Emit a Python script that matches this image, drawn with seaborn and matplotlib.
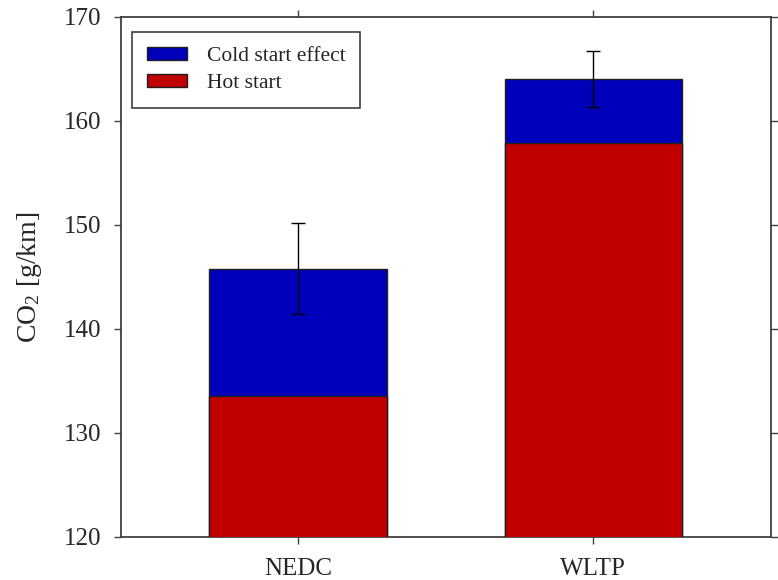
import matplotlib
matplotlib.use("Agg")
import matplotlib.pyplot as plt
import seaborn as sns
import pandas as pd
from matplotlib.patches import Patch

categories = ["NEDC", "WLTP"]
hot_start = [133.5, 157.9]
total = [145.8, 164.0]
total_err = [4.35, 2.7]
series_labels = ["Cold start effect", "Hot start"]
y_ticks = [120, 130, 140, 150, 160, 170]

sns.set_theme(style="white")
plt.rcParams["font.family"] = ["Liberation Serif", "DejaVu Serif"]
plt.rcParams["mathtext.fontset"] = "custom"
plt.rcParams["mathtext.rm"] = "Liberation Serif"
plt.rcParams["mathtext.it"] = "Liberation Serif:italic"

blue = "#0000BB"
red = "#C00000"
spine_col = "#404040"

df = pd.DataFrame({"cycle": categories, "hot": hot_start, "total": total})

fig = plt.figure(figsize=(7.78, 5.80), dpi=100)
ax = fig.add_axes([0.155, 0.0747, 0.8356, 0.896])

sns.barplot(data=df, x="cycle", y="total", order=categories, color=blue,
            saturation=1, width=0.6, edgecolor="#202020", linewidth=1.0, ax=ax, zorder=2)
sns.barplot(data=df, x="cycle", y="hot", order=categories, color=red,
            saturation=1, width=0.6, edgecolor="#202020", linewidth=1.0, ax=ax, zorder=3)

ax.errorbar(range(len(categories)), total, yerr=total_err, fmt="none",
            ecolor="black", elinewidth=1.0, capsize=5, capthick=1.0, zorder=4)

ax.set_xlim(-0.6, 1.6)
ax.set_ylim(120, 170)
ax.set_yticks(y_ticks)
ax.set_xlabel("")
ax.set_ylabel(r"CO$_2$ [g/km]", fontsize=20, labelpad=14)

for s in ax.spines.values():
    s.set_visible(True)
    s.set_color(spine_col)
    s.set_linewidth(1.3)

ax.tick_params(axis="y", which="both", left=True, right=True, direction="out",
               length=5, width=1.0, color=spine_col, labelsize=18, pad=9)
ax.tick_params(axis="x", which="both", bottom=True, top=True, direction="out",
               length=5, width=1.0, color=spine_col, labelsize=18, pad=10)

handles = [Patch(facecolor=blue, edgecolor="#202020", linewidth=1.0),
           Patch(facecolor=red, edgecolor="#202020", linewidth=1.0)]
leg = ax.legend(handles, series_labels, loc="upper left", fontsize=15.5,
                frameon=True, fancybox=False, shadow=False,
                handlelength=1.85, handleheight=0.6, handletextpad=0.9,
                borderpad=0.7, labelspacing=0.36,
                bbox_to_anchor=(0.018, 0.972), borderaxespad=0.0)
leg.get_frame().set_edgecolor(spine_col)
leg.get_frame().set_linewidth(1.2)
leg.get_frame().set_alpha(1.0)

fig.savefig("out.png", dpi=100)
